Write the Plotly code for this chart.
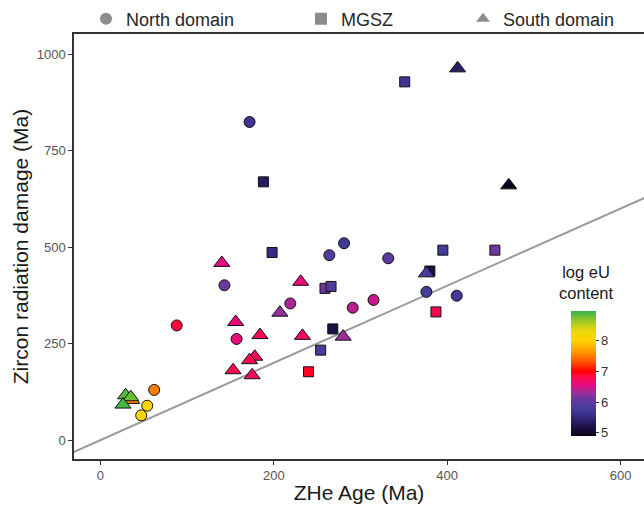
import plotly.graph_objects as go

# ZHe age (Ma), zircon radiation damage (Ma) and log eU content per grain
north_age = [172, 143, 88, 157, 219, 264, 281, 332, 291, 315, 376, 411, 62, 54, 47]
north_damage = [824, 401, 297, 262, 354, 479, 510, 471, 343, 363, 384, 374, 130, 89, 64]
north_logeu = [5.7, 6.1, 6.85, 6.6, 6.35, 5.9, 5.75, 5.95, 6.4, 6.45, 5.8, 5.75, 7.5, 8.0, 8.05]

mgsz_age = [351, 188, 198, 259, 266, 395, 455, 380, 268, 254, 240, 387]
mgsz_damage = [928, 669, 486, 393, 398, 492, 492, 438, 288, 233, 177, 332]
mgsz_logeu = [5.7, 5.35, 5.55, 6.1, 5.9, 5.75, 6.1, 5.15, 5.15, 5.8, 6.9, 6.8]

south_age = [412, 471, 140, 231, 207, 156, 184, 233, 280, 178, 172, 153, 175, 376, 36, 29, 35, 26]
south_damage = [963, 660, 459, 410, 330, 306, 272, 270, 268, 216, 207, 181, 168, 432, 104, 116, 111, 92]
south_logeu = [5.35, 4.95, 6.55, 6.6, 6.25, 6.6, 6.75, 6.7, 6.3, 6.75, 6.8, 6.8, 6.7, 5.8, 7.55, 8.85, 8.8, 8.9]

# 1:1 reference line
ref_x = [-60, 700]
ref_y = [-60, 700]

x_ticks = [0, 200, 400, 600]
y_ticks = [0, 250, 500, 750, 1000]
eu_ticks = [5, 6, 7, 8]

CMIN, CMAX = 4.9, 8.95


def stop(v):
    return (v - CMIN) / (CMAX - CMIN)


colorscale = [
    [stop(4.9), "#0b0316"],
    [stop(5.2), "#20104a"],
    [stop(5.5), "#35287e"],
    [stop(5.8), "#463c9c"],
    [stop(6.1), "#6b389c"],
    [stop(6.3), "#9c2d9a"],
    [stop(6.55), "#e30c82"],
    [stop(6.8), "#ff0850"],
    [stop(7.0), "#ff0000"],
    [stop(7.3), "#ff5200"],
    [stop(7.6), "#ff9400"],
    [stop(8.0), "#ffd500"],
    [stop(8.3), "#ecd80a"],
    [stop(8.6), "#a6c922"],
    [stop(8.95), "#35b449"],
]

FONT = "Liberation Sans, Arial, sans-serif"

# plot area in pixels: left 74, right 644, top 34, bottom 459
PL, PR, PT, PB = 74, 644, 34, 459


def px_x(p):
    return (p - PL) / (PR - PL)


def px_y(p):
    return (PB - p) / (PB - PT)


fig = go.Figure()

fig.add_trace(go.Scatter(
    x=ref_x, y=ref_y, mode="lines",
    line=dict(color="#9a9a9a", width=2),
    showlegend=False, hoverinfo="skip",
))


def marker(vals, symbol, size, show_bar=False):
    m = dict(
        color=vals, colorscale=colorscale, cmin=CMIN, cmax=CMAX,
        symbol=symbol, size=size,
        line=dict(color="#111111", width=1),
    )
    if show_bar:
        m["showscale"] = True
        m["colorbar"] = dict(
            x=px_x(571), xanchor="left",
            y=px_y(436), yanchor="bottom",
            len=125 / (PB - PT), lenmode="fraction",
            thickness=25, thicknessmode="pixels",
            outlinewidth=0,
            tickvals=eu_ticks, ticks="outside", ticklen=3,
            tickcolor="#333333",
            tickfont=dict(family=FONT, size=13, color="#333333"),
            bgcolor="rgba(0,0,0,0)",
            xpad=0, ypad=0,
        )
    else:
        m["showscale"] = False
    return m


fig.add_trace(go.Scatter(
    x=north_age, y=north_damage, mode="markers",
    marker=marker(north_logeu, "circle", 11, show_bar=True),
    showlegend=False,
))
fig.add_trace(go.Scatter(
    x=mgsz_age, y=mgsz_damage, mode="markers",
    marker=marker(mgsz_logeu, "square", 10),
    showlegend=False,
))
fig.add_trace(go.Scatter(
    x=south_age, y=south_damage, mode="markers",
    marker=marker(south_logeu, "triangle-up", 14),
    showlegend=False,
))

# colour bar heading, centred over the bar
fig.add_annotation(
    text="log eU<br>content", xref="paper", yref="paper",
    x=px_x(586), y=px_y(304), xanchor="center", yanchor="bottom",
    align="center", showarrow=False,
    font=dict(family=FONT, size=16.5, color="#1a1a1a"),
)

# domain key entries in grey
domains = [("North domain", "circle", "legend", 86),
           ("MGSZ", "square", "legend2", 301),
           ("South domain", "triangle-up", "legend3", 463)]
for name, sym, leg, _ in domains:
    fig.add_trace(go.Scatter(
        x=[None], y=[None], mode="markers", name=name,
        marker=dict(symbol=sym, size=12, color="#8c8c8c"),
        legend=leg, showlegend=True,
    ))

legend_style = dict(
    orientation="h", yanchor="middle", xanchor="left",
    font=dict(family=FONT, size=18, color="#262626"),
    bgcolor="rgba(0,0,0,0)", borderwidth=0, itemsizing="constant",
)
for name, sym, leg, px in domains:
    fig.update_layout({leg: dict(legend_style, x=px_x(px), y=px_y(19))})

fig.update_layout(
    width=644, height=512,
    margin=dict(l=PL, r=644 - PR, t=PT, b=512 - PB),
    paper_bgcolor="white", plot_bgcolor="white",
    font=dict(family=FONT),
    xaxis=dict(
        range=[-30.5, 627], tickvals=x_ticks,
        showgrid=False, zeroline=False,
        showline=True, linecolor="#333333", linewidth=1.5, mirror=True,
        ticks="outside", ticklen=4, tickcolor="#333333",
        tickfont=dict(family=FONT, size=13, color="#555555"),
        title=dict(text="ZHe Age (Ma)", font=dict(family=FONT, size=21, color="#1a1a1a"),
                   standoff=3),
    ),
    yaxis=dict(
        range=[-49, 1052], tickvals=y_ticks,
        showgrid=False, zeroline=False,
        showline=True, linecolor="#333333", linewidth=1.5,
        ticks="outside", ticklen=4, tickcolor="#333333",
        tickfont=dict(family=FONT, size=13, color="#555555"),
        title=dict(text="Zircon radiation damage (Ma)",
                   font=dict(family=FONT, size=21, color="#1a1a1a"), standoff=2),
    ),
)

fig.write_html("out.html")
